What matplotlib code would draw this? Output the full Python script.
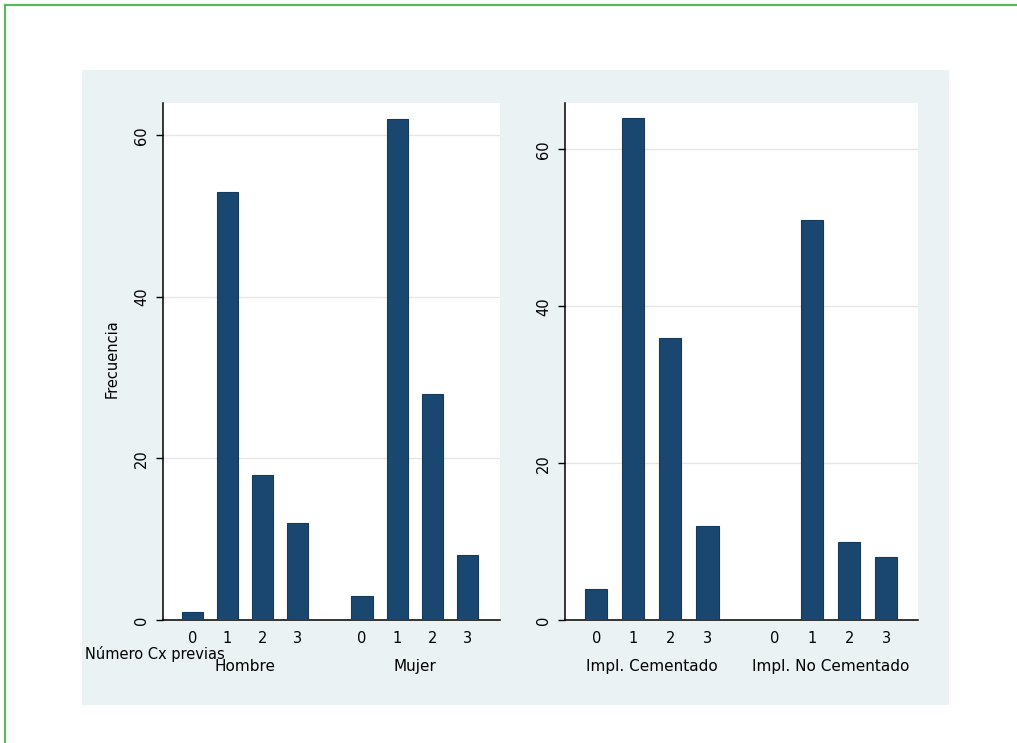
import matplotlib
matplotlib.use("Agg")
import matplotlib.pyplot as plt
from matplotlib.patches import Rectangle
from matplotlib.lines import Line2D

# Frecuencias por número de cirugías previas
niveles = ["0", "1", "2", "3"]
grupos_sexo = ["Hombre", "Mujer"]
frec_hombre = [1, 53, 18, 12]
frec_mujer = [3, 62, 28, 8]
grupos_impl = ["Impl. Cementado", "Impl. No Cementado"]
frec_cementado = [4, 64, 36, 12]
frec_no_cementado = [0, 51, 10, 8]

azul = "#1a476f"
fondo = "#eaf2f3"
gap = 4.82  # posición del primer nivel del segundo grupo

fig = plt.figure(figsize=(10.17, 7.43), dpi=100)

# marco verde y fondo gris del gráfico
fig.add_artist(Line2D([0.0049, 1.0], [0.9933, 0.9933], transform=fig.transFigure,
                      color="#5cb85c", linewidth=1.6))
fig.add_artist(Line2D([0.0049, 0.0049], [0.0, 0.9933], transform=fig.transFigure,
                      color="#5cb85c", linewidth=1.6))
fig.add_artist(Rectangle((0.0806, 0.0511), 0.8525, 0.8546, transform=fig.transFigure,
                         facecolor=fondo, edgecolor="none", zorder=0))


def panel(rect, vals1, vals2, nombres, ylim, xlim):
    ax = fig.add_axes(rect)
    x1 = list(range(len(niveles)))
    x2 = [gap + i for i in x1]
    ax.bar(x1 + x2, vals1 + vals2, width=0.6, color=azul,
           edgecolor="#143a5c", linewidth=0.8, zorder=3)
    ax.set_xlim(*xlim)
    ax.set_ylim(*ylim)
    ax.set_xticks(x1 + x2)
    ax.set_xticklabels(niveles + niveles)
    ax.set_yticks([0, 20, 40, 60])
    ax.tick_params(axis="x", length=0, pad=8, labelsize=10.5)
    ax.tick_params(axis="y", length=5, width=1, pad=5, labelsize=10.5, labelrotation=90)
    for lab in ax.get_yticklabels():
        lab.set_va("center")
    ax.grid(axis="y", color="#e3e7e9", linewidth=1, zorder=0)
    ax.spines["top"].set_visible(False)
    ax.spines["right"].set_visible(False)
    ax.spines["left"].set_linewidth(1.1)
    ax.spines["bottom"].set_linewidth(1.1)
    ax.set_facecolor("white")
    centros = [sum(x1) / 4, sum(x2) / 4]
    for c, nombre in zip(centros, nombres):
        ax.text(c, -0.089, nombre, transform=ax.get_xaxis_transform(),
                ha="center", va="center", fontsize=11)
    return ax


ax1 = panel([0.1603, 0.1655, 0.3314, 0.6958], frec_hombre, frec_mujer,
            grupos_sexo, (0, 64), (-0.83, 8.74))
ax2 = panel([0.5556, 0.1655, 0.3471, 0.6958], frec_cementado, frec_no_cementado,
            grupos_impl, (0, 65.9), (-0.84, 8.68))

fig.text(0.110, 0.518, "Frecuencia", rotation=90, ha="center", va="center", fontsize=10.5)
fig.text(0.0836, 0.1198, "Número Cx previas", ha="left", va="center", fontsize=10.5)

fig.savefig("out.png", dpi=100)
